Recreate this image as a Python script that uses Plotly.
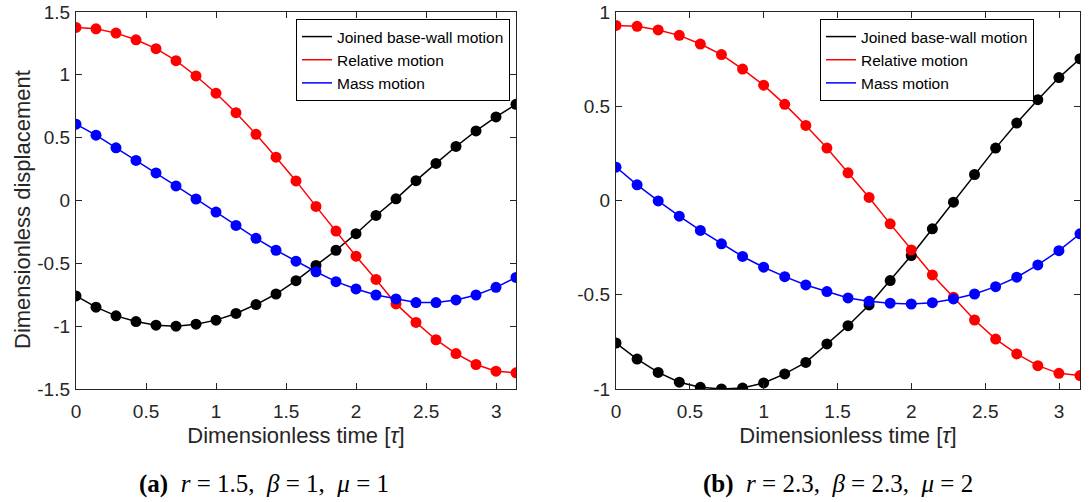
import plotly.graph_objects as go

# Dimensionless time samples (0 .. pi, 23 samples)
tau = [0.0, 0.1428, 0.2856, 0.4284, 0.5712, 0.7140, 0.8568, 0.9996, 1.1424, 1.2852,
       1.4280, 1.5708, 1.7136, 1.8564, 1.9992, 2.1420, 2.2848, 2.4276, 2.5704,
       2.7132, 2.8560, 2.9988, 3.1416]

# Panel (a): r = 1.5, beta = 1, mu = 1
a_joined = [-0.759, -0.849, -0.918, -0.963, -0.992, -1.000, -0.984, -0.952, -0.899, -0.828,
            -0.744, -0.638, -0.517, -0.396, -0.264, -0.119, 0.013, 0.158, 0.295, 0.430,
            0.554, 0.665, 0.765]
a_relative = [1.377, 1.366, 1.332, 1.279, 1.208, 1.113, 0.991, 0.854, 0.699, 0.527,
              0.345, 0.156, -0.047, -0.243, -0.443, -0.628, -0.823, -0.970, -1.108, -1.218,
              -1.305, -1.358, -1.371]
a_mass = [0.607, 0.520, 0.419, 0.319, 0.219, 0.116, 0.012, -0.092, -0.198, -0.301,
          -0.396, -0.483, -0.567, -0.646, -0.704, -0.752, -0.783, -0.812, -0.812, -0.791,
          -0.752, -0.691, -0.612]

# Panel (b): r = 2.3, beta = 2.3, mu = 2
b_joined = [-0.756, -0.841, -0.912, -0.964, -0.991, -1.000, -0.995, -0.968, -0.920, -0.859,
            -0.761, -0.664, -0.554, -0.425, -0.292, -0.150, -0.009, 0.138, 0.278, 0.411,
            0.535, 0.652, 0.752]
b_relative = [0.929, 0.924, 0.905, 0.876, 0.830, 0.774, 0.697, 0.612, 0.510, 0.398,
              0.278, 0.147, 0.016, -0.124, -0.262, -0.395, -0.513, -0.634, -0.735, -0.814,
              -0.876, -0.917, -0.929]
b_mass = [0.177, 0.083, -0.002, -0.083, -0.159, -0.230, -0.297, -0.354, -0.404, -0.448,
          -0.483, -0.517, -0.535, -0.545, -0.549, -0.542, -0.522, -0.496, -0.457, -0.407,
          -0.342, -0.266, -0.177]

series_names = ["Joined base-wall motion", "Relative motion", "Mass motion"]
series_colors = ["#000000", "#ff0000", "#0000ff"]

x_tickvals = [0, 0.5, 1, 1.5, 2, 2.5, 3]
x_ticktext = ["0", "0.5", "1", "1.5", "2", "2.5", "3"]
a_tickvals = [-1.5, -1, -0.5, 0, 0.5, 1, 1.5]
a_ticktext = ["-1.5", "-1", "-0.5", "0", "0.5", "1", "1.5"]
b_tickvals = [-1, -0.5, 0, 0.5, 1]
b_ticktext = ["-1", "-0.5", "0", "0.5", "1"]

x_title = "Dimensionless time [<i>τ</i>]"
y_title = "Dimensionless displacement"
captions = ["<b>(a)</b>  <i>r</i> = 1.5,  <i>β</i> = 1,  <i>μ</i> = 1",
            "<b>(b)</b>  <i>r</i> = 2.3,  <i>β</i> = 2.3,  <i>μ</i> = 2"]

W, H = 1092, 502
fig = go.Figure()

panels = [
    ("x", "y", "legend", [a_joined, a_relative, a_mass]),
    ("x2", "y2", "legend2", [b_joined, b_relative, b_mass]),
]
for xa, ya, leg, data in panels:
    for name, col, vals in zip(series_names, series_colors, data):
        fig.add_trace(go.Scatter(x=tau, y=vals, mode="lines", name=name,
                                 line=dict(color=col, width=1.5),
                                 xaxis=xa, yaxis=ya, legend=leg, showlegend=True))
    for name, col, vals in zip(series_names, series_colors, data):
        fig.add_trace(go.Scatter(x=tau, y=vals, mode="markers", name=name,
                                 marker=dict(color=col, size=11),
                                 xaxis=xa, yaxis=ya, showlegend=False))

axcol = "#262626"
sans = "Liberation Sans, Arial, sans-serif"
tickfont = dict(family=sans, size=19, color=axcol)
titlefont = dict(family=sans, size=22, color=axcol)

def xax(domain, anchor):
    return dict(domain=domain, anchor=anchor, range=[0, 3.1416], automargin=False,
                tickvals=x_tickvals, ticktext=x_ticktext, ticklabelstandoff=5,
                ticks="inside", ticklen=6, tickcolor=axcol, tickwidth=1,
                showline=True, linecolor=axcol, linewidth=1.3, mirror="ticks",
                showgrid=False, zeroline=False, tickfont=tickfont,
                title=dict(text=x_title, font=titlefont, standoff=6))

def yax(domain, anchor, rng, tv, tt):
    return dict(domain=domain, anchor=anchor, range=rng, tickvals=tv, ticktext=tt,
                automargin=False, ticklabelstandoff=1,
                ticks="inside", ticklen=6, tickcolor=axcol, tickwidth=1,
                showline=True, linecolor=axcol, linewidth=1.3, mirror="ticks",
                showgrid=False, zeroline=False, tickfont=tickfont)

ydom = [1 - 389 / H, 1 - 12 / H]
legfont = dict(family=sans, size=15.5, color="#000000")
cap_font = dict(family="Liberation Serif, serif", size=25, color="#000000")
fig.update_layout(
    width=W, height=H, margin=dict(l=0, r=0, t=0, b=0, autoexpand=False),
    paper_bgcolor="white", plot_bgcolor="white",
    xaxis=xax([76 / W, 516 / W], "y"),
    yaxis=yax(ydom, "x", [-1.5, 1.5], a_tickvals, a_ticktext),
    xaxis2=xax([616 / W, 1080 / W], "y2"),
    yaxis2=yax(ydom, "x2", [-1, 1], b_tickvals, b_ticktext),
    legend=dict(x=510 / W, y=1 - 19 / H, xanchor="right", yanchor="top",
                bgcolor="white", bordercolor="#000000", borderwidth=1,
                font=legfont, tracegroupgap=0, itemwidth=30),
    legend2=dict(x=1034 / W, y=1 - 19 / H, xanchor="right", yanchor="top",
                 bgcolor="white", bordercolor="#000000", borderwidth=1,
                 font=legfont, tracegroupgap=0, itemwidth=30),
    annotations=[
        dict(text=y_title, x=22 / W, y=1 - 210 / H, xref="paper", yref="paper",
             textangle=-90, showarrow=False, xanchor="center", yanchor="middle",
             font=titlefont),
        dict(text=captions[0], x=264 / W, y=1 - 484 / H, xref="paper", yref="paper",
             showarrow=False, xanchor="center", yanchor="middle", font=cap_font),
        dict(text=captions[1], x=838 / W, y=1 - 484 / H, xref="paper", yref="paper",
             showarrow=False, xanchor="center", yanchor="middle", font=cap_font),
    ],
)

fig.write_html("out.html")
